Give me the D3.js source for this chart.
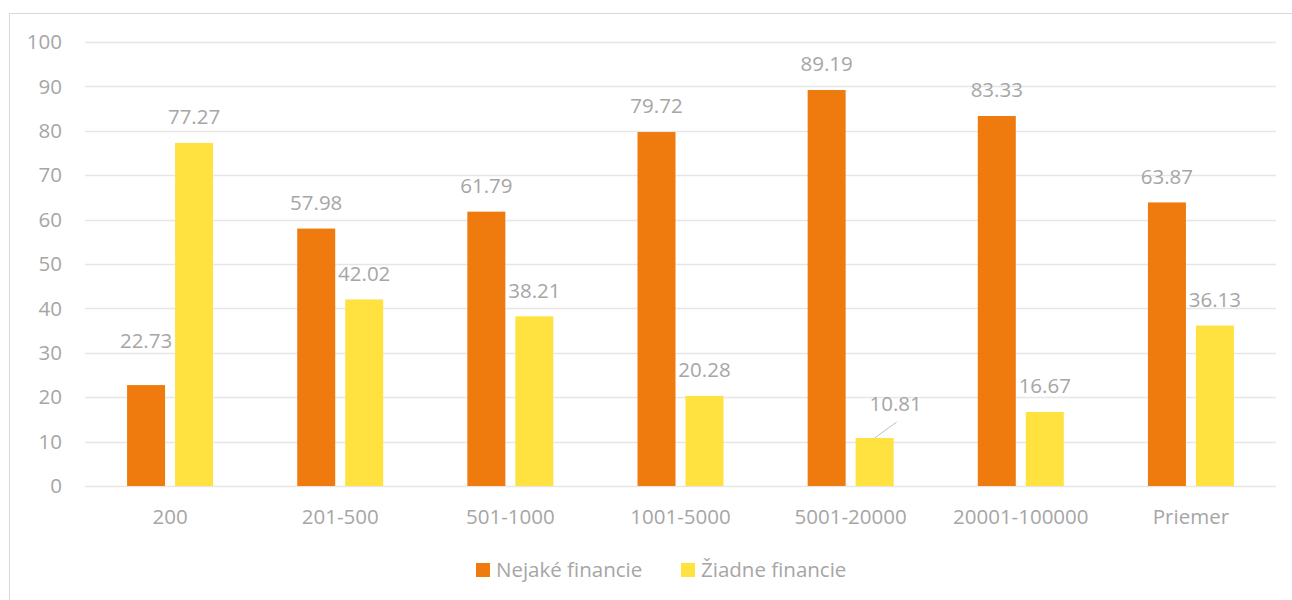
<!DOCTYPE html>
<html>
<head>
<meta charset="utf-8">
<script src="https://cdn.jsdelivr.net/npm/d3@7"></script>
<style>
  body { margin: 0; background: #fff; }
  svg text { font-family: "Open Sans", Lato, sans-serif; fill: #a6a6a6; }
</style>
</head>
<body>
<svg width="1292" height="600"></svg>
<script>
var categories = ['200', '201-500', '501-1000', '1001-5000', '5001-20000', '20001-100000', 'Priemer'];
var nejake = [22.73, 57.98, 61.79, 79.72, 89.19, 83.33, 63.87];
var ziadne = [77.27, 42.02, 38.21, 20.28, 10.81, 16.67, 36.13];
var seriesNames = ['Nejaké financie', 'Žiadne financie'];
var yTicks = [0, 10, 20, 30, 40, 50, 60, 70, 80, 90, 100];

var colors = ['#ef7b0e', '#ffe13f'];
var fontSize = '20.5px';

var svg = d3.select('svg'),
    margin = {left: 85, right: 16, top: 42, bottom: 114},
    width = 1292,
    height = 600;

// chart frame
svg.append('rect')
    .attr('x', 9.5).attr('y', 13.5)
    .attr('width', 1300).attr('height', 620)
    .style('fill', 'none')
    .style('stroke', '#d9d9d9');

var x = d3.scaleBand()
    .domain(categories)
    .range([margin.left, width - margin.right]);

var y = d3.scaleLinear()
    .domain([0, 100])
    .range([height - margin.bottom, margin.top]);

// gridlines
svg.append('g')
    .selectAll('line')
    .data(yTicks)
    .enter()
    .append('line')
    .attr('x1', margin.left)
    .attr('x2', width - margin.right)
    .attr('y1', function(d) { return Math.round(y(d)) + 0.5; })
    .attr('y2', function(d) { return Math.round(y(d)) + 0.5; })
    .style('stroke', '#e6e6e6')
    .style('stroke-width', 1.3);

// y labels
svg.append('g')
    .selectAll('text')
    .data(yTicks)
    .enter()
    .append('text')
    .attr('x', 62)
    .attr('y', function(d) { return y(d); })
    .attr('dy', '0.35em')
    .style('text-anchor', 'end')
    .style('font-size', fontSize)
    .text(function(d) { return d; });

// x labels
svg.append('g')
    .selectAll('text')
    .data(categories)
    .enter()
    .append('text')
    .attr('x', function(d) { return x(d) + x.bandwidth() / 2; })
    .attr('y', 517)
    .attr('dy', '0.35em')
    .style('text-anchor', 'middle')
    .style('font-size', fontSize)
    .text(function(d) { return d; });

var barW = 38, gap = 10;
var series = [nejake, ziadne];

series.forEach(function(values, si) {
    var g = svg.append('g');
    var rows = categories.map(function(c, i) { return {cat: c, v: values[i], i: i}; });
    var bx = function(d) {
        var c = x(d.cat) + x.bandwidth() / 2;
        return si === 0 ? c - gap / 2 - barW : c + gap / 2;
    };

    g.selectAll('rect')
        .data(rows)
        .enter()
        .append('rect')
        .attr('x', bx)
        .attr('y', function(d) { return y(d.v); })
        .attr('width', barW)
        .attr('height', function(d) { return y(0) - y(d.v); })
        .style('fill', colors[si]);

    g.selectAll('text')
        .data(rows)
        .enter()
        .append('text')
        .attr('x', function(d) {
            var cx = bx(d) + barW / 2;
            // 10.81 label was moved aside in the original
            if (si === 1 && d.v < 12) cx += 21;
            return cx;
        })
        .attr('y', function(d) {
            var off = 26;
            if (si === 0 && d.v < 25) off = 44;
            if (si === 1 && d.v < 12) off = 34;
            return y(d.v) - off;
        })
        .attr('dy', '0.35em')
        .style('text-anchor', 'middle')
        .style('font-size', fontSize)
        .text(function(d) { return d.v.toFixed(2); });

    // leader line for the moved label
    g.selectAll('line')
        .data(rows.filter(function(d) { return si === 1 && d.v < 12; }))
        .enter()
        .append('line')
        .attr('x1', function(d) { return bx(d) + barW / 2; })
        .attr('y1', function(d) { return y(d.v); })
        .attr('x2', function(d) { return bx(d) + barW / 2 + 22; })
        .attr('y2', function(d) { return y(d.v) - 16; })
        .style('stroke', '#bfbfbf')
        .style('stroke-width', 1);
});

// legend
var legend = svg.append('g');
var legendX = [476, 681];
seriesNames.forEach(function(name, i) {
    legend.append('rect')
        .attr('x', legendX[i]).attr('y', 563)
        .attr('width', 14).attr('height', 14)
        .style('fill', colors[i]);
    legend.append('text')
        .attr('x', legendX[i] + 20)
        .attr('y', 570)
        .attr('dy', '0.35em')
        .style('font-size', fontSize)
        .text(name);
});
</script>
</body>
</html>
